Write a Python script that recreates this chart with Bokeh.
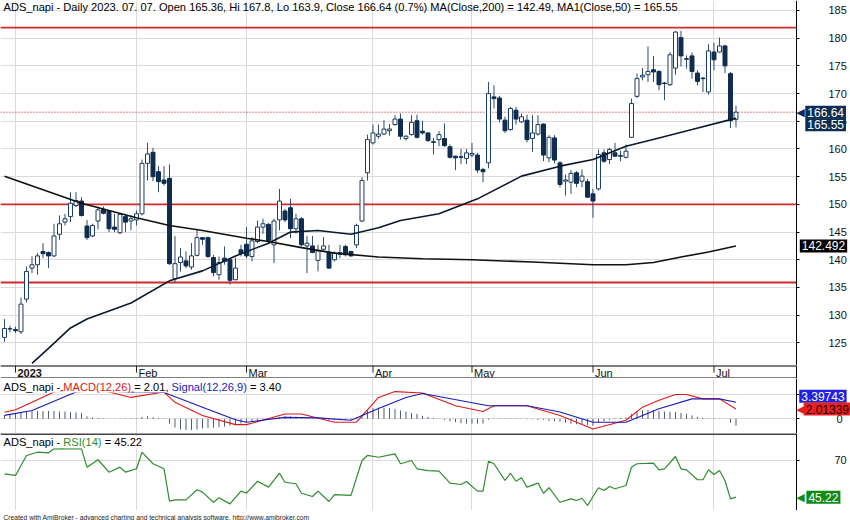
import numpy as np
from bokeh.plotting import figure
from bokeh.models import Range1d, LinearAxis, FixedTicker, Label, Grid
from bokeh.layouts import column
from bokeh.embed import file_html
from bokeh.resources import INLINE
from bokeh.core.properties import value

# ---------------- data ----------------
opens = [126.0,127.5,127.4,127.0,132.9,138.5,139.1,141.5,141.3,140.7,144.6,146.8,147.8,149.8,150.6,146.1,144.3,147.0,149.1,148.8,
         145.9,144.9,147.8,147.0,147.2,148.3,157.4,159.4,155.9,154.4,154.7,136.6,139.5,139.8,138.7,140.8,144.0,144.0,140.4,137.3,
         140.3,140.0,136.4,141.8,142.8,140.6,143.3,145.9,146.4,142.7,147.2,148.8,149.4,145.6,147.4,142.5,142.5,139.9,141.9,141.3,
         140.0,141.0,142.4,141.5,142.7,147.0,155.7,161.1,162.3,162.7,163.3,164.4,165.4,161.9,162.6,165.1,163.2,162.9,161.3,161.7,
         161.9,160.4,158.7,158.6,158.3,158.9,158.9,156.3,157.5,169.4,169.2,165.2,163.5,167.0,164.9,165.2,161.9,162.7,164.5,158.4,
         162.0,157.5,154.2,154.0,155.7,154.2,154.1,151.9,152.8,159.3,158.1,159.3,158.8,158.5,162.1,169.5,173.0,173.4,174.3,174.0,
         171.9,171.6,174.6,180.1,176.3,176.8,173.7,172.8,170.3,177.5,177.5,178.6,173.6,165.36]
highs = [129.3,128.1,127.9,133.2,138.8,140.6,141.2,143.0,141.5,146.5,148.0,148.3,152.2,152.2,151.3,147.2,146.5,149.6,149.6,149.0,
         148.3,148.4,148.3,148.0,148.9,158.1,161.1,160.2,156.9,156.9,157.2,144.3,142.1,141.5,143.0,145.6,144.1,144.2,140.9,140.6,
         142.4,140.1,140.4,142.7,145.9,144.1,147.1,147.4,146.6,147.4,152.8,149.2,151.0,148.3,147.7,144.3,144.3,142.7,144.1,142.7,
         141.5,142.7,142.7,141.6,146.5,154.9,162.6,164.4,164.4,165.2,164.5,166.1,166.4,162.5,166.1,166.2,165.1,163.0,162.0,163.2,
         164.6,160.8,158.8,160.0,160.0,161.1,159.3,156.6,172.1,171.5,169.6,165.8,167.6,167.6,166.4,166.2,166.1,166.1,164.6,162.5,
         162.5,157.8,155.4,156.2,156.0,156.3,154.6,152.8,159.9,159.9,160.2,161.1,159.7,160.8,169.1,173.6,174.6,178.5,176.8,174.2,
         172.1,177.5,181.3,181.3,176.9,177.4,174.2,173.0,178.9,179.2,180.1,178.8,173.9,167.8]
lows = [125.2,126.9,126.8,126.6,132.3,137.6,137.3,140.3,138.5,140.5,143.6,146.2,146.8,149.5,147.8,143.6,144.1,145.5,148.2,145.0,
        145.0,144.6,145.0,145.3,146.2,148.0,154.3,154.2,152.2,153.4,139.1,135.8,137.9,138.5,138.2,140.6,142.7,140.3,137.0,136.4,
        139.1,135.5,136.3,140.6,140.3,139.7,143.0,144.7,142.9,139.4,145.3,146.8,143.9,144.7,142.4,137.6,141.2,137.9,141.7,138.4,
        139.7,140.3,140.6,140.6,142.1,146.8,154.3,160.8,161.9,162.5,162.4,164.2,161.7,161.5,162.4,161.9,162.6,161.3,159.0,160.5,
        160.4,158.3,156.2,157.3,157.3,158.5,155.7,154.0,156.5,167.3,164.8,162.9,163.3,164.4,164.7,161.2,159.5,162.4,157.8,157.6,
        157.4,153.1,151.6,151.9,153.1,153.1,151.2,147.6,152.5,157.5,157.3,158.6,157.8,158.3,162.0,169.2,172.4,172.1,172.1,170.6,
        168.8,171.4,173.4,174.9,174.5,172.7,171.5,170.3,169.8,174.2,177.4,173.7,163.8,163.9]
closes = [127.6,127.6,127.2,132.0,137.9,139.1,140.7,141.1,140.7,144.3,146.5,147.4,150.2,150.7,148.0,144.0,146.2,149.0,148.4,145.6,
          145.5,148.2,146.8,147.4,148.3,157.4,159.1,155.0,154.1,153.8,139.3,139.3,140.5,138.9,140.7,144.0,143.7,140.6,137.7,139.5,
          139.7,136.3,138.5,141.1,140.7,143.4,145.9,146.5,143.5,147.0,150.6,147.2,145.6,147.4,142.7,143.0,141.3,141.6,142.5,138.5,
          141.2,141.3,140.9,140.7,146.2,154.3,161.7,162.9,162.7,163.6,163.6,165.4,162.3,162.3,164.8,162.1,162.9,161.5,161.2,162.6,
          160.6,158.5,158.4,158.5,159.3,159.2,156.2,155.9,170.0,169.1,165.4,163.3,167.3,165.4,165.8,161.7,162.9,164.4,158.9,162.1,
          158.0,153.6,154.4,155.6,153.8,155.1,151.3,150.6,159.0,157.8,159.9,158.7,158.7,159.6,168.2,172.7,173.3,174.0,173.9,171.6,
          171.8,177.0,181.1,176.8,176.2,174.0,172.2,172.7,177.7,176.1,178.6,175.0,165.1,166.64]

ma50_idx = [5, 8, 12, 15, 23, 30, 36, 42, 48, 52, 57, 63, 68, 72, 79, 86, 94, 101, 107, 113, 119, 125, 132, 133]
ma50_val = [121.3, 124.0, 127.7, 129.3, 132.2, 136.2, 138.0, 140.7, 143.0, 145.0, 145.3, 144.6, 145.8, 147.1,
            148.3, 151.0, 155.1, 156.9, 158.1, 160.5, 162.0, 163.5, 165.3, 165.55]
ma200_idx = [0, 14, 24, 30, 36, 44, 48, 54, 60, 68, 76, 85, 96, 107, 113, 118, 123, 128, 133]
ma200_val = [155.1, 150.2, 147.6, 146.2, 145.3, 143.9, 143.3, 142.2, 141.2, 140.5, 140.2, 140.0, 139.6, 139.1,
             139.1, 139.5, 140.5, 141.4, 142.492]
levels = [181.9, 150.0, 135.9]

macd_idx = [0, 2, 5, 9, 13, 17, 19, 23, 29, 31, 36, 42, 44, 51, 54, 60, 64, 68, 71, 76, 82, 87, 89, 95, 101,
            107, 113, 116, 119, 122, 124, 127, 130, 133]
macd_val = [1.36, 1.85, 3.4, 5.5, 6.3, 6.0, 5.5, 4.4, 5.5, 3.4, 0.7, -1.2, -1.2, 1.0, 1.0, -0.7, -0.7, 4.4, 5.6,
            5.3, 2.7, 1.5, 2.7, 2.7, 0.7, -2.1, -0.3, 2.4, 3.8, 5.0, 5.0, 4.1, 4.1, 2.01339]
signal_idx = [0, 5, 13, 17, 22, 29, 36, 42, 44, 51, 57, 63, 68, 73, 76, 88, 95, 101, 107, 113, 119, 125, 130, 133]
signal_val = [0.7, 1.7, 5.5, 5.8, 5.5, 5.4, 2.4, -0.2, -0.7, 0.3, 0.2, -0.3, 2.1, 4.4, 5.2, 2.7, 2.7, 1.4, -0.7,
              -0.7, 2.06, 4.1, 4.1, 3.39743]
hist_val = [0.7,0.8,1.0,1.2,1.5,1.6,1.6,1.6,1.6,1.6,1.5,1.5,1.4,1.3,1.2,0.5,0.3,0.2,0.1,0.05,
            -0.05,0.05,0.1,0.1,0.1,0.4,0.5,0.3,0.2,0.1,-1.0,-1.8,-2.2,-2.3,-2.3,-2.2,-2.0,-1.9,-1.8,-1.7,
            -1.6,-1.4,-1.3,-1.0,-0.7,-0.5,-0.3,-0.1,0.1,0.2,0.4,0.5,0.5,0.4,0.3,0.1,0.05,0.0,-0.1,-0.2,
            -0.3,-0.3,-0.3,-0.3,0.2,0.9,1.7,2.2,2.3,2.3,2.2,2.0,1.7,1.5,1.2,1.0,0.6,0.4,0.2,0.05,
            -0.2,-0.5,-0.7,-0.9,-1.0,-1.0,-1.0,-1.0,-0.2,0.1,0.1,0.05,0.1,0.1,0.05,-0.1,-0.1,-0.2,-0.2,-0.4,
            -0.5,-0.6,-0.8,-1.0,-1.1,-1.2,-1.3,-1.4,-0.8,-0.5,-0.2,0.1,0.2,0.3,1.0,1.5,1.8,1.85,1.8,1.6,
            1.5,1.4,1.4,1.2,1.0,0.7,0.4,0.2,0.1,0.1,0.05,0.05,-0.8,-1.4]

rsi_idx = [0,2,4,6,8,9,14,15,17,19,21,22,24,25,27,29,30,31,33,35,36,38,39,41,43,44,46,48,50,51,53,54,56,57,59,60,
           63,65,66,68,71,72,74,75,77,79,81,83,84,86,87,88,89,91,92,93,94,95,97,98,99,101,103,104,105,106,108,109,
           110,111,113,114,115,118,119,120,122,123,124,126,127,128,129,130,131,132,133]
rsi_val = [61.0,59.9,73.4,75.6,75.2,77.9,77.9,65.5,70.5,62.1,65.5,62.1,64.4,75.6,67.8,64.4,42.5,43.4,43.4,50.2,
           48.6,41.8,44.8,40.7,49.3,47.9,56.0,52.0,61.4,55.3,54.3,47.9,45.7,49.3,42.3,47.0,46.4,70.0,73.4,72.2,
           74.5,67.8,70.0,64.4,63.2,62.8,54.7,53.8,55.8,49.3,49.3,69.5,67.8,56.5,61.4,56.0,58.3,52.0,54.7,47.9,
           51.6,41.8,44.1,43.0,44.5,39.6,51.6,49.7,52.4,50.9,53.1,65.5,67.8,68.2,63.7,64.4,72.7,64.4,63.7,57.0,
           57.0,63.7,60.5,63.2,56.5,44.1,45.22]

month_idx = [2, 24, 44, 67, 85, 107, 129]
month_labels = ["2023", "Feb", "Mar", "Apr", "May", "Jun", "Jul"]
price_ticks = [125, 130, 135, 140, 145, 150, 155, 160, 165, 170, 175, 180, 185]
macd_ticks = [0, 5]
rsi_ticks = [70]

main_title = ("ADS_napi - Daily 2023. 07. 07. Open 165.36, Hi 167.8, Lo 163.9, Close 166.64 (0.7%) "
              "MA(Close,200) = 142.49, MA1(Close,50) = 165.55")
footer_text = "Created with AmiBroker - advanced charting and technical analysis software. http://www.amibroker.com"

# ---------------- layout / style ----------------
FONT = "Liberation Sans"
W = 850
H_MAIN, H_STRIP, H_MACD, H_RSI, H_FOOT = 365, 13, 55, 77, 10
XA = 144.0            # bar-index position of the right price axis
GRID = "#dadada"
DOWN = "#0f2d50"
UPL = "#1d3b5e"
WICK = "#2e4b6c"

AW = {' ': 278, '!': 278, '(': 333, ')': 333, ',': 278, '-': 333, '.': 278, '%': 889, '=': 584, '_': 556,
      'A': 667, 'C': 722, 'D': 722, 'I': 278, 'M': 833, 'R': 722, 'S': 667,
      'a': 556, 'g': 556, 'i': 222, 'l': 222, 'n': 556, 'p': 556}
for d in "0123456789":
    AW[d] = 556


def tw(s, fs):
    return sum(AW.get(ch, 556) for ch in s) * fs / 1000.0


xr = Range1d(-0.727, 153.82)


def make_fig(h, yr, xrange=xr):
    f = figure(width=W, height=h, x_range=xrange, y_range=yr, output_backend="svg", toolbar_location=None,
               min_border_left=0, min_border_right=0, min_border_top=0, min_border_bottom=0,
               x_axis_location=None, y_axis_location=None)
    f.xgrid.visible = False
    f.ygrid.visible = False
    f.outline_line_color = None
    f.background_fill_color = "white"
    f.border_fill_color = "white"
    return f


def add_grids(f, yticks, yr):
    f.add_layout(Grid(dimension=0, ticker=FixedTicker(ticks=month_idx), grid_line_color=GRID, grid_line_width=1))
    if yticks:
        f.add_layout(Grid(dimension=1, ticker=FixedTicker(ticks=yticks), grid_line_color=GRID, grid_line_width=1))
    # keep the grid to the left of the axis
    f.quad(left=[XA], right=[xr.end], bottom=[yr.start], top=[yr.end], fill_color="white", line_color=None)


def add_axis(f, ticks, standoff, overrides=None):
    ax = LinearAxis(ticker=FixedTicker(ticks=ticks), fixed_location=XA, major_tick_out=3, major_tick_in=0,
                    minor_tick_out=0, minor_tick_in=0, major_label_standoff=standoff,
                    axis_line_color="black", axis_line_width=1, major_tick_line_color="black",
                    major_label_text_font=FONT, major_label_text_font_size="11px",
                    major_label_text_color="#111111")
    if overrides:
        ax.major_label_overrides = overrides
    f.add_layout(ax, "right")


def add_title(f, pieces, y_screen, fs=11.1):
    x = 3
    for txt, col in pieces:
        lead = len(txt) - len(txt.lstrip(" "))
        s = txt.strip(" ")
        f.add_layout(Label(x=x + tw(" " * lead, fs), y=y_screen, x_units="screen", y_units="screen", text=s,
                           text_font=FONT, text_font_size=f"{fs}px", text_color=col,
                           text_baseline="middle", text_align="left", background_fill_color="white"))
        x += tw(txt, fs)


def box(f, x, y, text, bg, fg="white", yoff=0, arrow=False):
    if arrow:
        f.add_layout(Label(x=XA - 0.05, y=y, text="◀", text_font="DejaVu Sans", text_font_size="11px",
                           text_color=bg, text_baseline="middle", text_align="left", y_offset=yoff))
    f.add_layout(Label(x=x, y=y, text=text, text_font=FONT, text_font_size="12px", text_color=fg,
                       text_baseline="middle", text_align="left", background_fill_color=bg,
                       padding=2, y_offset=yoff))


# ---------------- main price panel ----------------
yr_main = Range1d(120.92, 186.8)
main = make_fig(H_MAIN, yr_main)
add_grids(main, price_ticks, yr_main)
add_axis(main, price_ticks, 29)

idx = np.arange(len(closes))
o = np.array(opens); c = np.array(closes); hi = np.array(highs); lo = np.array(lows)
up = c >= o
top = np.maximum(o, c); bot = np.minimum(o, c)

for lv in levels:
    main.line(x=[xr.start, XA], y=[lv, lv], line_color="#d42a2a", line_width=1.8)
main.line(x=[xr.start, XA], y=[closes[-1], closes[-1]], line_color="#c01010", line_width=1, line_dash="1 2")

main.segment(x0=idx, y0=lo, x1=idx, y1=hi, line_color=WICK, line_width=1)
main.vbar(x=idx[up], top=top[up], bottom=bot[up], width=0.72, fill_color="white", line_color=UPL, line_width=1)
main.vbar(x=idx[~up], top=top[~up], bottom=bot[~up], width=0.72, fill_color=DOWN, line_color=DOWN, line_width=1)

main.line(x=ma200_idx, y=ma200_val, line_color="#111111", line_width=1.6)
main.line(x=ma50_idx, y=ma50_val, line_color="#0a1a2e", line_width=1.6)

main.add_layout(Label(x=3, y=H_MAIN - 6, x_units="screen", y_units="screen", text=main_title,
                      text_font=FONT, text_font_size="11.1px", text_color="black", text_baseline="middle"))

box(main, 145.6, closes[-1], f"{closes[-1]:.2f}", "#0d2d52", arrow=True)
box(main, 145.6, ma50_val[-1], f"{ma50_val[-1]:.2f}", "#0d2d52", yoff=-6.5)
box(main, 144.6, ma200_val[-1], f"{ma200_val[-1]:.3f}", "black")

# ---------------- date strip ----------------
strip = make_fig(H_STRIP, Range1d(0, 1))
strip.line(x=[xr.start, XA], y=[1, 1], line_color="black", line_width=2)
strip.line(x=[xr.start, XA], y=[0, 0], line_color="black", line_width=2)
strip.line(x=[XA, XA], y=[0, 1], line_color="black", line_width=1)
strip.segment(x0=month_idx, y0=[1] * len(month_idx), x1=month_idx, y1=[0.45] * len(month_idx),
              line_color="#222222", line_width=1)
strip.text(x=month_idx[:1], y=[0.45], text=month_labels[:1], x_offset=2, text_font=value(FONT),
           text_font_size="11px", text_font_style="bold", text_baseline="middle", text_color="#111111")
strip.text(x=month_idx[1:], y=[0.45] * (len(month_idx) - 1), text=month_labels[1:], x_offset=2,
           text_font=value(FONT), text_font_size="11px", text_baseline="middle", text_color="#111111")

# ---------------- MACD panel ----------------
yr_macd = Range1d(-3.02, 8.29)
macd = make_fig(H_MACD, yr_macd)
add_grids(macd, macd_ticks, yr_macd)
add_axis(macd, macd_ticks, 37, overrides={5: ""})
macd.segment(x0=idx, y0=[0] * len(idx), x1=idx, y1=hist_val, line_color="#4d5e70", line_width=1)
macd.line(x=macd_idx, y=macd_val, line_color="#e01818", line_width=1.1)
macd.line(x=signal_idx, y=signal_val, line_color="#1a1ab8", line_width=1.1)
add_title(macd, [("ADS_napi - ", "black"), ("MACD(12,26)", "#e01818"),
                 (f" = {macd_val[-1]:.2f}, ", "black"), ("Signal(12,26,9)", "#1a1ab8"),
                 (f" = {signal_val[-1]:.2f}", "black")], H_MACD - 8)
box(macd, 144.5, signal_val[-1], f"{signal_val[-1]:.5f}", "#2020e0", yoff=6)
box(macd, 145.3, macd_val[-1], f"{macd_val[-1]:.5f}", "#e82020", fg="#200000", arrow=True)

# ---------------- RSI panel ----------------
yr_rsi = Range1d(36.22, 88.24)
rsi = make_fig(H_RSI, yr_rsi)
add_grids(rsi, rsi_ticks, yr_rsi)
add_axis(rsi, rsi_ticks, 35)
rsi.line(x=[xr.start, XA], y=[yr_rsi.end, yr_rsi.end], line_color="#444444", line_width=3)
rsi.line(x=rsi_idx, y=rsi_val, line_color="#2e8b2e", line_width=1.2)
add_title(rsi, [("ADS_napi - ", "black"), ("RSI(14)", "#2e8b2e"), (f" = {rsi_val[-1]:.2f}", "black")],
          H_RSI - 8.7)
box(rsi, 145.8, rsi_val[-1], f"{rsi_val[-1]:.2f}", "#138a13", arrow=True)

# ---------------- footer ----------------
foot = make_fig(H_FOOT, Range1d(0, 1), xrange=Range1d(0, W))
foot.text(x=[3], y=[0.5], text=[footer_text], text_font=value(FONT), text_font_size="6.7px",
          text_baseline="middle", text_color="#222222")

page = column(main, strip, macd, rsi, foot, spacing=0)
open("out.html", "w").write(file_html(page, INLINE))
